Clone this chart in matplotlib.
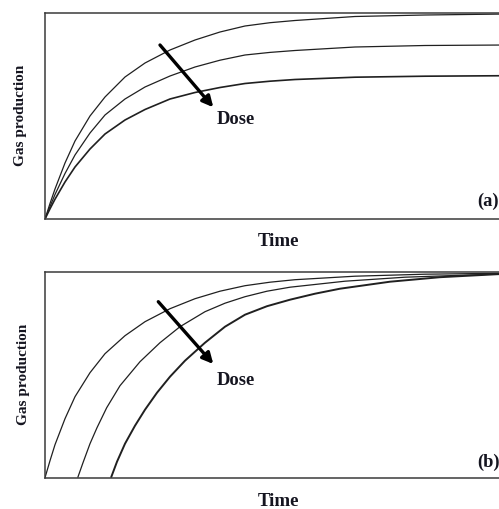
import matplotlib
matplotlib.use("Agg")
import matplotlib.pyplot as plt

# ---- data (time / gas in arbitrary units) ----
t_a = [0, 5, 10, 20, 30, 45, 60, 80, 100, 125, 150, 175, 200, 225, 250, 310, 380, 462]
upper_a = [0, 15.5, 30, 56, 78, 103, 122, 142, 156, 169, 179, 187, 193, 196.3, 198.5, 202.5, 204, 205]
middle_a = [0, 12.5, 24.5, 45.5, 64, 86, 104, 120, 132, 143, 152, 158.8, 164, 166.6, 168.5, 172, 173.5, 174]
lower_a = [0, 10.2, 19.8, 37, 52, 70, 85, 99, 109.5, 120, 126.5, 131.5, 135.5, 137.8, 139.5, 141.8, 142.8, 143.3]

t_b_upper = [0, 5, 10, 20, 30, 45, 60, 80, 100, 125, 150, 175, 200, 225, 250, 310, 380, 462]
upper_b = [0, 17, 33, 59, 81, 105, 124, 142, 156, 169, 179, 186.5, 192, 195.5, 198, 201.5, 203.5, 204.5]
t_b_middle = [32.7, 38, 45, 52, 61.7, 75, 95, 115, 135, 160, 180, 200, 222, 245, 300, 360, 462]
middle_b = [0, 15, 34, 50, 70, 92, 116, 135, 151, 166, 174.5, 181, 186.5, 190.5, 196.5, 200.5, 204]
t_b_lower = [66, 72, 80, 90, 100, 112, 125, 140, 160, 180, 200, 222, 245, 270, 295, 345, 395, 462]
lower_b = [0, 16, 34, 52, 68, 85, 101, 117, 135, 151, 163, 171.5, 178, 184, 189, 196, 200.5, 204]

x_label = "Time"
y_label = "Gas production"
dose_label = "Dose"
panel_labels = ["(a)", "(b)"]

W, H = 499, 510
fig = plt.figure(figsize=(W / 100, H / 100), dpi=100)

serif = ["Liberation Serif", "DejaVu Serif"]
tc = "#151520"

def px_axes(left, top, right, bottom):
    return fig.add_axes([left / W, 1 - bottom / H, (right - left) / W, (bottom - top) / H])

ax_a = px_axes(45, 14.3, 506, 220)
ax_b = px_axes(45, 273, 506, 478.7)

panels = [
    (ax_a, [(t_a, upper_a, 0.9), (t_a, middle_a, 0.9), (t_a, lower_a, 1.2)]),
    (ax_b, [(t_b_upper, upper_b, 0.9), (t_b_middle, middle_b, 0.9), (t_b_lower, lower_b, 1.4)]),
]

for ax, series in panels:
    for tx, ys, lw in series:
        ax.plot(tx, ys, color="#202020", lw=lw, solid_capstyle="butt",
                solid_joinstyle="round")
    ax.set_xlim(0, 461)
    ax.set_ylim(0, 205.7)
    ax.set_xticks([])
    ax.set_yticks([])
    for s in ["left", "top", "bottom"]:
        ax.spines[s].set_color("#3a3a3a")
        ax.spines[s].set_linewidth(1.1)
    ax.spines["right"].set_visible(False)

# arrows
ax_a.annotate("", xy=(168.3, 111.7), xytext=(115, 174),
              arrowprops=dict(arrowstyle="-|>", lw=2.4, color="black",
                              mutation_scale=16, shrinkA=0, shrinkB=0))
ax_b.annotate("", xy=(168.3, 113.7), xytext=(113.3, 176),
              arrowprops=dict(arrowstyle="-|>", lw=2.4, color="black",
                              mutation_scale=16, shrinkA=0, shrinkB=0))

def ftext(x, y, s, **kw):
    fig.text(x / W, 1 - y / H, s, family=serif, fontweight="bold", color=tc, **kw)

ftext(217, 119.5, dose_label, fontsize=13.3, ha="left", va="center")
ftext(217, 380.5, dose_label, fontsize=13.3, ha="left", va="center")
ftext(279, 242, x_label, fontsize=13.6, ha="center", va="center")
ftext(279, 502, x_label, fontsize=13.6, ha="center", va="center")
ftext(21, 115, y_label, fontsize=11, ha="center", va="center", rotation=90)
ftext(24, 374, y_label, fontsize=11, ha="center", va="center", rotation=90)
ftext(477.5, 201.5, panel_labels[0], fontsize=13.3, ha="left", va="center")
ftext(477.5, 462, panel_labels[1], fontsize=13.3, ha="left", va="center")

fig.savefig("out.png", dpi=100)
